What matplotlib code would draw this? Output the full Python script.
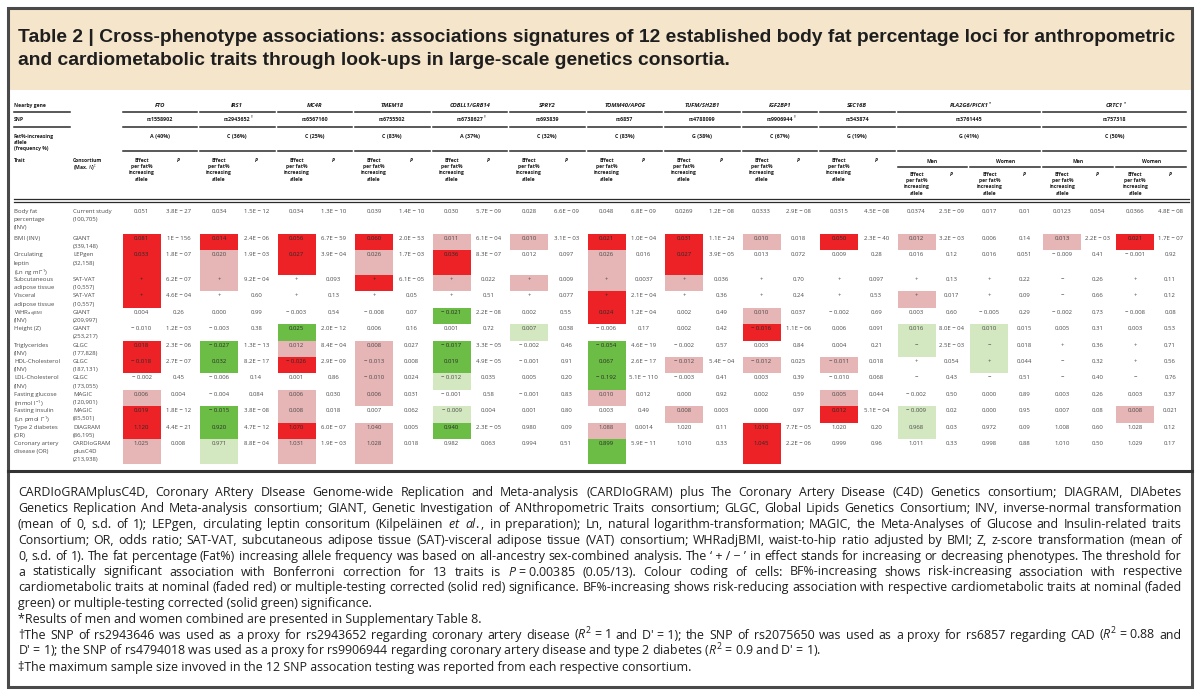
import matplotlib
matplotlib.use('Agg')
import matplotlib.pyplot as plt
from matplotlib import font_manager
from matplotlib.patches import Rectangle

# ---- 数据 ----
genes = ['FTO', 'IRS1', 'MC4R', 'TMEM18', 'COBLL1/GRB14', 'SPRY2', 'TOMM40/APOE',
         'TUFM/SH2B1', 'IGF2BP1', 'SEC16B', 'PLA2G6/PICK1', 'CRTC1']
gene_marks = ['', '', '', '', '', '', '', '', '', '', '*', '*']
snps = ['rs1558902', 'rs2943652', 'rs6567160', 'rs6755502', 'rs6738627', 'rs693839',
        'rs6857', 'rs4788099', 'rs9906944', 'rs543874', 'rs3761445', 'rs757318']
snp_marks = ['', '†', '', '', '†', '', '', '', '†', '', '', '']
alleles = ['A (40%)', 'C (36%)', 'C (25%)', 'C (83%)', 'A (37%)', 'C (32%)', 'C (83%)',
           'G (38%)', 'C (67%)', 'G (19%)', 'G (41%)', 'C (50%)']
sex_split = [False] * 10 + [True, True]
sexes = ['Men', 'Women']

traits = ['Body fat\npercentage\n(INV)', 'BMI (INV)', 'Circulating\nleptin\n(Ln ng ml$^{-1}$)',
          'Subcutaneous\nadipose tissue', 'Visceral\nadipose tissue', 'WHR$_{\\rm adjBMI}$\n(INV)',
          'Height (Z)', 'Triglycerides\n(INV)', 'HDL-Cholesterol\n(INV)', 'LDL-Cholesterol\n(INV)',
          'Fasting glucose\n(mmol l$^{-1}$)', 'Fasting insulin\n(Ln pmol l$^{-1}$)',
          'Type 2 diabetes\n(OR)', 'Coronary artery\ndisease (OR)']
consortia = ['Current study\n(100,705)', 'GIANT\n(339,148)', 'LEPgen\n(32,158)', 'SAT-VAT\n(10,557)',
             'SAT-VAT\n(10,557)', 'GIANT\n(209,997)', 'GIANT\n(253,217)', 'GLGC\n(177,828)',
             'GLGC\n(187,131)', 'GLGC\n(173,055)', 'MAGIC\n(120,901)', 'MAGIC\n(85,501)',
             'DIAGRAM\n(86,195)', 'CARDIoGRAM\nplusC4D\n(213,938)']

effects = [
    ['0.051', '0.034', '0.034', '0.039', '0.030', '0.028', '0.048', '0.0269', '0.0333', '0.0315', '0.0374', '0.017', '0.0123', '0.0366'],
    ['0.081', '0.014', '0.056', '0.060', '0.011', '0.010', '0.021', '0.031', '0.010', '0.050', '0.012', '0.006', '0.013', '0.021'],
    ['0.033', '0.020', '0.027', '0.026', '0.036', '0.012', '0.026', '0.027', '0.013', '0.009', '0.016', '0.016', '-0.009', '-0.001'],
    ['+', '+', '+', '+', '+', '+', '+', '+', '+', '+', '+', '+', '-', '+'],
    ['+', '+', '+', '+', '+', '+', '+', '+', '+', '+', '+', '+', '-', '+'],
    ['0.004', '0.000', '-0.003', '-0.008', '-0.021', '0.002', '0.024', '0.002', '0.010', '-0.002', '0.003', '-0.005', '-0.002', '-0.008'],
    ['-0.010', '-0.003', '0.025', '0.006', '0.001', '0.007', '-0.006', '0.002', '-0.016', '0.006', '0.016', '0.010', '0.005', '0.003'],
    ['0.018', '-0.027', '0.012', '0.008', '-0.017', '-0.002', '-0.054', '-0.002', '0.003', '0.004', '-', '-', '+', '+'],
    ['-0.018', '0.032', '-0.026', '-0.013', '0.019', '-0.001', '0.067', '-0.012', '-0.012', '-0.011', '+', '+', '-', '+'],
    ['-0.002', '-0.006', '0.001', '-0.010', '-0.012', '0.005', '-0.192', '-0.003', '0.003', '-0.010', '-', '-', '-', '-'],
    ['0.006', '-0.004', '0.006', '0.006', '-0.001', '-0.001', '0.010', '0.000', '0.002', '0.005', '-0.002', '0.000', '0.003', '0.003'],
    ['0.019', '-0.015', '0.008', '0.007', '-0.009', '0.001', '0.003', '0.008', '0.000', '0.012', '-0.009', '0.000', '0.007', '0.008'],
    ['1.120', '0.920', '1.070', '1.040', '0.940', '0.980', '1.088', '1.020', '1.010', '1.020', '0.968', '0.972', '1.008', '1.028'],
    ['1.025', '0.971', '1.031', '1.028', '0.982', '0.994', '0.899', '1.010', '1.045', '0.999', '1.011', '0.998', '1.010', '1.029'],
]
pvalues = [
    ['3.8E-27', '1.5E-12', '1.3E-10', '1.4E-10', '5.7E-09', '6.6E-09', '6.8E-09', '1.2E-08', '2.9E-08', '4.5E-08', '2.5E-09', '0.01', '0.054', '4.8E-08'],
    ['1E-156', '2.4E-06', '6.7E-59', '2.0E-53', '6.1E-04', '3.1E-03', '1.0E-04', '1.1E-24', '0.018', '2.3E-40', '3.2E-03', '0.14', '2.2E-03', '1.7E-07'],
    ['1.8E-07', '1.9E-03', '3.9E-04', '1.7E-03', '8.3E-07', '0.097', '0.016', '3.9E-05', '0.072', '0.28', '0.12', '0.051', '0.41', '0.92'],
    ['6.2E-07', '9.2E-04', '0.093', '6.1E-05', '0.022', '0.009', '0.0037', '0.036', '0.70', '0.097', '0.13', '0.22', '0.26', '0.11'],
    ['4.6E-04', '0.60', '0.13', '0.05', '0.51', '0.077', '2.1E-04', '0.36', '0.24', '0.53', '0.017', '0.09', '0.66', '0.12'],
    ['0.26', '0.99', '0.54', '0.07', '2.2E-08', '0.55', '1.2E-04', '0.49', '0.037', '0.69', '0.60', '0.29', '0.73', '0.08'],
    ['1.2E-03', '0.38', '2.0E-12', '0.16', '0.72', '0.038', '0.17', '0.42', '1.1E-06', '0.091', '8.0E-04', '0.015', '0.31', '0.53'],
    ['2.3E-06', '1.3E-13', '8.4E-04', '0.027', '3.3E-05', '0.46', '4.6E-19', '0.57', '0.84', '0.21', '2.5E-03', '0.018', '0.36', '0.71'],
    ['2.7E-07', '8.2E-17', '2.9E-09', '0.008', '4.9E-05', '0.91', '2.6E-17', '5.4E-04', '0.025', '0.018', '0.054', '0.044', '0.32', '0.56'],
    ['0.45', '0.14', '0.86', '0.024', '0.035', '0.20', '5.1E-110', '0.41', '0.39', '0.068', '0.43', '0.51', '0.40', '0.76'],
    ['0.004', '0.084', '0.030', '0.031', '0.58', '0.83', '0.012', '0.92', '0.59', '0.044', '0.50', '0.89', '0.26', '0.37'],
    ['1.8E-12', '3.8E-08', '0.018', '0.062', '0.004', '0.80', '0.49', '0.003', '0.97', '5.1E-04', '0.02', '0.95', '0.08', '0.021'],
    ['4.4E-21', '4.7E-12', '6.0E-07', '0.005', '2.3E-05', '0.09', '0.0014', '0.11', '7.7E-05', '0.20', '0.03', '0.09', '0.60', '0.12'],
    ['0.008', '8.8E-04', '1.9E-03', '0.018', '0.063', '0.51', '5.9E-11', '0.33', '2.2E-06', '0.96', '0.33', '0.88', '0.50', '0.17'],
]
# R 实心红, r 淡红, G 实心绿, g 淡绿, . 无
cell_codes = [
    '..............',
    'RRRRrrRRrRr.rR',
    'RrRrR.rR......',
    'Rr.Rrrrr......',
    'R.....R...r...',
    '....G.R.r.....',
    '..G..g..R.gg..',
    'RGrrG.G...gg..',
    'RGRrG.Grrr.g..',
    '...rg.G.......',
    'r.rr..r..r....',
    'RGr.g..r.Rg..r',
    'RGRrG.r.R.g...',
    'rgrr..G.R.....',
]

title_lines = [
    'Table 2 | Cross-phenotype associations: associations signatures of 12 established body fat percentage loci for anthropometric',
    'and cardiometabolic traits through look-ups in large-scale genetics consortia.',
]
notes = [
    'CARDIoGRAMplusC4D, Coronary ARtery DIsease Genome-wide Replication and Meta-analysis (CARDIoGRAM) plus The Coronary Artery Disease (C4D) Genetics consortium; DIAGRAM, DIAbetes',
    'Genetics Replication And Meta-analysis consortium; GIANT, Genetic Investigation of ANthropometric Traits consortium; GLGC, Global Lipids Genetics Consortium; INV, inverse-normal transformation',
    '(mean of 0, s.d. of 1); LEPgen, circulating leptin consoritum (Kilpeläinen $\\mathit{et}$ $\\mathit{al.}$, in preparation); Ln, natural logarithm-transformation; MAGIC, the Meta-Analyses of Glucose and Insulin-related traits',
    'Consortium; OR, odds ratio; SAT-VAT, subcutaneous adipose tissue (SAT)-visceral adipose tissue (VAT) consortium; WHRadjBMI, waist-to-hip ratio adjusted by BMI; Z, z-score transformation (mean of',
    "0, s.d. of 1). The fat percentage (Fat%) increasing allele frequency was based on all-ancestry sex-combined analysis. The ‘\u00a0+\u00a0/\u00a0−\u00a0’ in effect stands for increasing or decreasing phenotypes. The threshold for",
    'a statistically significant association with Bonferroni correction for 13 traits is $\\mathit{P}$\u00a0=\u00a00.00385 (0.05/13). Colour coding of cells: BF%-increasing shows risk-increasing association with respective',
    'cardiometabolic traits at nominal (faded red) or multiple-testing corrected (solid red) significance. BF%-increasing shows risk-reducing association with respective cardiometabolic traits at nominal (faded',
    'green) or multiple-testing corrected (solid green) significance.',
    '*Results of men and women combined are presented in Supplementary Table 8.',
    "†The SNP of rs2943646 was used as a proxy for rs2943652 regarding coronary artery disease ($\\mathit{R}^2$\u00a0=\u00a01 and D'\u00a0=\u00a01); the SNP of rs2075650 was used as a proxy for rs6857 regarding CAD ($\\mathit{R}^2$\u00a0=\u00a00.88 and",
    "D'\u00a0=\u00a01); the SNP of rs4794018 was used as a proxy for rs9906944 regarding coronary artery disease and type 2 diabetes ($\\mathit{R}^2$\u00a0=\u00a00.9 and D'\u00a0=\u00a01).",
    '‡The maximum sample size invoved in the 12 SNP assocation testing was reported from each respective consortium.',
]
justified = [0, 1, 2, 3, 4, 5, 6, 9]


def pick_font(cands):
    for c in cands:
        try:
            font_manager.findfont(font_manager.FontProperties(family=c), fallback_to_default=False)
            return c
        except ValueError:
            pass
    return 'DejaVu Sans'


BODY = pick_font(['Open Sans', 'Liberation Sans'])
TITLE = pick_font(['Liberation Sans', 'DejaVu Sans'])
FAM = [BODY, 'DejaVu Sans']
plt.rcParams['mathtext.fontset'] = 'custom'
plt.rcParams['mathtext.rm'] = BODY
plt.rcParams['mathtext.it'] = BODY + ':italic'
plt.rcParams['mathtext.bf'] = BODY + ':bold'

CELL_COLORS = {'R': '#ec2227', 'r': '#e6b5b5', 'G': '#6cbd45', 'g': '#d3e8c0'}
DARK = '#1e1e1e'
GREY = '#4a4a4a'

W, H = 1200, 692
fig = plt.figure(figsize=(12, 6.92), dpi=100)
ax = fig.add_axes([0, 0, 1, 1])
ax.set_xlim(0, W)
ax.set_ylim(H, 0)
ax.axis('off')
renderer = fig.canvas.get_renderer()


def text_width(s, **kw):
    t = ax.text(0, 0, s, **kw)
    w = t.get_window_extent(renderer).width
    t.remove()
    return w


def fmt_eff(s):
    return s.replace('-', '\u2212 ') if len(s) > 1 else s.replace('-', '\u2212')


def fmt_p(s):
    return s.replace('-', ' \u2212 ')


# ---- 外框与标题 ----
ax.add_patch(Rectangle((9, 9), 1182, 81, facecolor='#f5e5cb', edgecolor='none'))
ax.add_patch(Rectangle((8, 8), 1184, 679, facecolor='none', edgecolor='#4a4a4a', lw=2.2))

tkw = dict(family=[TITLE, 'DejaVu Sans'], fontweight='bold', color=DARK)
tfs = 10 * 1160 / text_width(title_lines[0], fontsize=10, **tkw)
for i, line in enumerate(title_lines):
    ax.text(18, 42 + i * 23, line, fontsize=tfs, ha='left', va='baseline', **tkw)

# ---- 表格列布局 ----
pair_left, pair_w, pair_sex, gene_pairs = [], [], [], []
x = 122.5
for g, split in enumerate(sex_split):
    idx = []
    for s in (sexes if split else [None]):
        w = 72.9 if split else 77.5
        idx.append(len(pair_left))
        pair_left.append(x)
        pair_w.append(w)
        pair_sex.append(s)
        x += w
    gene_pairs.append(idx)
EFF_W = 38

HFS, GFS, BFS = 3.6, 4.2, 4.3
hkw = dict(family=FAM, fontsize=HFS, fontweight='bold', color=DARK, va='center_baseline')
LINE_C = '#2b2b2b'

# 左侧表头
ax.text(14, 105, 'Nearby gene', ha='left', **hkw)
ax.plot([14, 70], [112, 112], color=LINE_C, lw=1.1)
ax.text(14, 119, 'SNP', ha='left', **hkw)
ax.plot([14, 70], [127, 127], color=LINE_C, lw=1.1)
for k, s in enumerate(['Fat%-increasing', 'allele', '(frequency %)']):
    ax.text(14, 136 + k * 6, s, ha='left', **hkw)
ax.text(14, 160, 'Trait', ha='left', **hkw)
ax.text(73, 160, 'Consortium', ha='left', **hkw)
ax.text(73, 166.2, '(Max. $\\mathbf{\\mathit{N}}$)$^{\\ddag}$', ha='left', **hkw)

eff_head = ['Effect', 'per fat%', 'increasing', 'allele']
for g in range(len(genes)):
    ps = gene_pairs[g]
    x0 = pair_left[ps[0]]
    x1 = pair_left[ps[-1]] + pair_w[ps[-1]] - 3
    xc = (x0 + x1) / 2
    for y, txt, mark, style in [(105, genes[g], gene_marks[g], 'italic'),
                                (119, snps[g], snp_marks[g], 'normal'),
                                (136, alleles[g], '', 'normal')]:
        kw = {**hkw, 'fontsize': GFS if y == 105 else HFS + 0.3}
        ax.text(xc, y, txt, ha='center', fontstyle=style, **kw)
        if mark:
            wd = text_width(txt, fontstyle=style, **kw)
            ax.text(xc + wd / 2 + 0.5, y - 2.5, mark, ha='left', **{**hkw, 'fontsize': HFS - 0.8})
    for y in (112, 127, 151):
        ax.plot([x0, x1], [y, y], color=LINE_C, lw=1.1)

for p in range(len(pair_left)):
    xl, w = pair_left[p], pair_w[p]
    xe = xl + EFF_W / 2
    xp = xl + EFF_W + (w - 3 - EFF_W) / 2
    y0 = 160
    if pair_sex[p]:
        ax.text((xl + xl + w - 3) / 2, 161, pair_sex[p], ha='center', **hkw)
        ax.plot([xl, xl + w - 3], [167, 167], color=LINE_C, lw=1.1)
        y0 = 174
    for k, s in enumerate(eff_head):
        ax.text(xe, y0 + k * 6.2, s, ha='center', **hkw)
    ax.text(xp, y0, 'P', ha='center', fontstyle='italic', **hkw)

ax.plot([14, 1189], [199, 199], color=LINE_C, lw=0.9)
ax.plot([14, 1189], [201.5, 201.5], color=LINE_C, lw=0.9)

# ---- 表格主体 ----
LINE = 8.2
bkw = dict(family=FAM, fontsize=BFS, color=GREY, va='center_baseline')
top = 207
for r in range(len(traits)):
    t_lines = traits[r].split('\n')
    c_lines = consortia[r].split('\n')
    n = max(len(t_lines), len(c_lines))
    yc = top + 4
    for k, s in enumerate(t_lines):
        ax.text(14, yc + k * LINE, s, ha='left', **bkw)
    for k, s in enumerate(c_lines):
        ax.text(73, yc + k * LINE, s, ha='left', **bkw)
    for p in range(len(pair_left)):
        xl, w = pair_left[p], pair_w[p]
        code = cell_codes[r][p]
        if code in CELL_COLORS:
            ax.add_patch(Rectangle((xl, top), EFF_W, n * LINE, facecolor=CELL_COLORS[code],
                                   edgecolor='none', zorder=1))
        ax.text(xl + EFF_W / 2, yc, fmt_eff(effects[r][p]), ha='center', zorder=3,
                **{**bkw, 'color': '#2a2a2a' if code in 'RG' else GREY})
        ax.text(xl + EFF_W + (w - 3 - EFF_W) / 2, yc, fmt_p(pvalues[r][p]), ha='center', zorder=3, **bkw)
    top += n * LINE + (2.4 if r == 0 else 0)

ax.plot([8, 1192], [471, 471], color='#333333', lw=2.2)

# ---- 脚注 ----
nkw = dict(family=FAM, color=DARK, va='baseline')
X0, X1 = 18, 1182
nfs = min(10 * (X1 - X0) / text_width(notes[i], fontsize=10, **nkw) for i in justified)
for i, line in enumerate(notes):
    y = 496 + i * 15.9
    if i in justified:
        words = line.split(' ')
        ws = [text_width(wd, fontsize=nfs, **nkw) for wd in words]
        gap = (X1 - X0 - sum(ws)) / (len(words) - 1)
        x = X0
        for wd, ww in zip(words, ws):
            ax.text(x, y, wd, fontsize=nfs, ha='left', **nkw)
            x += ww + gap
    else:
        ax.text(X0, y, line, fontsize=nfs, ha='left', **nkw)

fig.savefig('out.png', dpi=100)
